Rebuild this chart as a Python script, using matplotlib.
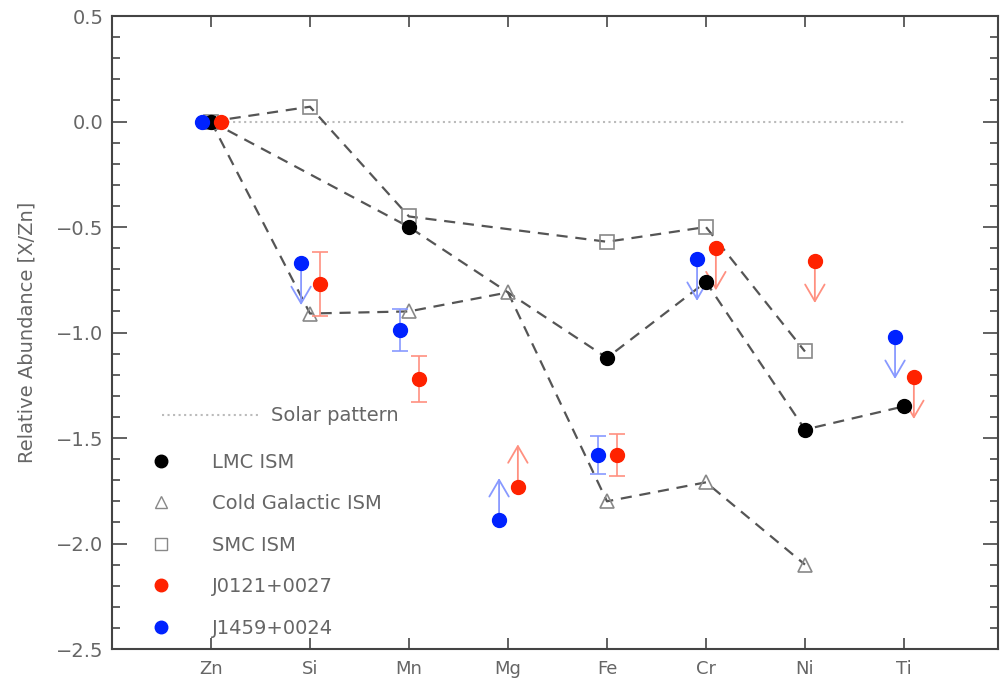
import numpy as np
import matplotlib
matplotlib.use('Agg')
import matplotlib.pyplot as plt
from matplotlib.lines import Line2D
from matplotlib.ticker import MultipleLocator

nan = np.nan

# elements along the x axis
elements = ['Zn', 'Si', 'Mn', 'Mg', 'Fe', 'Cr', 'Ni', 'Ti']
xpos = np.arange(1, len(elements) + 1)

# reference ISM patterns [X/Zn]
lmc_ism = [0.0, nan, -0.50, nan, -1.12, -0.76, -1.46, -1.35]
cold_gal = [0.0, -0.91, -0.90, -0.81, -1.80, -1.71, -2.10, nan]
smc_ism = [0.0, 0.07, -0.45, nan, -0.57, -0.50, -1.09, nan]
solar = [0.0, 0.0, 0.0, 0.0, 0.0, 0.0, 0.0, 0.0]

# J0121+0027 : value, error, limit flag ('d' detection, 'u' upper, 'l' lower)
j0121_val = [0.0, -0.77, -1.22, -1.73, -1.58, -0.60, -0.66, -1.21]
j0121_err = [0.0, 0.15, 0.11, 0.0, 0.10, 0.0, 0.0, 0.0]
j0121_lim = ['d', 'd', 'd', 'l', 'd', 'u', 'u', 'u']

# J1459+0024
j1459_val = [0.0, -0.67, -0.99, -1.89, -1.58, -0.65, nan, -1.02]
j1459_err = [0.0, 0.0, 0.10, 0.0, 0.09, 0.0, 0.0, 0.0]
j1459_lim = ['d', 'u', 'd', 'l', 'd', 'u', 'd', 'u']

fig = plt.figure(figsize=(10, 6.87), dpi=100)
ax = fig.add_axes([0.112, 0.0553, 0.886, 0.9214])

txt = '#666666'
dash = (0, (5, 3.5))


def connected(vals):
    v = np.array(vals, dtype=float)
    m = ~np.isnan(v)
    return xpos[m], v[m]


# solar pattern
ax.plot(xpos, solar, color='#bbbbbb', ls=':', lw=1.5, zorder=1)

# ISM patterns
x, y = connected(lmc_ism)
ax.plot(x, y, color='#555555', ls=dash, lw=1.6, zorder=2)
ax.plot(x, y, 'o', color='black', ms=10, zorder=4)
x, y = connected(cold_gal)
ax.plot(x, y, color='#555555', ls=dash, lw=1.6, zorder=2)
ax.plot(x, y, '^', mfc='none', mec='#888888', mew=1.2, ms=10, zorder=3)
x, y = connected(smc_ism)
ax.plot(x, y, color='#555555', ls=dash, lw=1.6, zorder=2)
ax.plot(x, y, 's', mfc='none', mec='#888888', mew=1.2, ms=10, zorder=3)


def quasar(vals, errs, lims, off, col, light):
    for xi, v, e, l in zip(xpos, vals, errs, lims):
        if np.isnan(v):
            continue
        xx = xi + off
        if l == 'd' and e > 0:
            ax.errorbar(xx, v, yerr=e, fmt='none', ecolor=light, elinewidth=1.2,
                        capsize=6, capthick=1.2, zorder=3)
        elif l in ('u', 'l'):
            d = -0.2 if l == 'u' else 0.2
            ax.annotate('', xy=(xx, v + d), xytext=(xx, v),
                        arrowprops=dict(arrowstyle='->,head_length=0.6,head_width=0.35',
                                        color=light, lw=1.3, mutation_scale=20,
                                        shrinkA=0, shrinkB=0), zorder=3)
        ax.plot(xx, v, 'o', color=col, ms=10, zorder=5)


quasar(j1459_val, j1459_err, j1459_lim, -0.09, '#0022ff', '#8899ff')
quasar(j0121_val, j0121_err, j0121_lim, 0.10, '#ff2200', '#ff9080')

ax.set_xlim(0, 8.95)
ax.set_ylim(-2.5, 0.5)
ax.set_xticks(xpos)
ax.set_xticklabels(elements)
ax.yaxis.set_major_locator(MultipleLocator(0.5))
ax.yaxis.set_minor_locator(MultipleLocator(0.1))
ax.yaxis.set_major_formatter(plt.FuncFormatter(lambda v, p: f'{v:.1f}'.replace('-', '\u2212')))
ax.tick_params(axis='x', which='major', direction='in', length=8, width=1.3,
               top=True, color='#555555', labelcolor=txt, labelsize=13, pad=8)
ax.tick_params(axis='y', which='major', direction='in', length=11, width=1.3,
               right=True, color='#555555', labelcolor=txt, labelsize=14, pad=6)
ax.tick_params(axis='y', which='minor', direction='in', length=6, width=1.3,
               right=True, color='#555555')
ax.tick_params(axis='x', which='minor', bottom=False, top=False)
for s in ax.spines.values():
    s.set_color('#444444')
    s.set_linewidth(1.5)
ax.set_ylabel('Relative Abundance [X/Zn]', color=txt, fontsize=14, labelpad=14)

# legends
leg1 = ax.legend([Line2D([], [], color='#bbbbbb', ls=':', lw=1.5)], ['Solar pattern'],
                 loc='upper left', bbox_to_anchor=(0.037, 0.411), frameon=False,
                 handlelength=5.1, handletextpad=0.5, fontsize=14, labelcolor=txt)
ax.add_artist(leg1)
handles = [Line2D([], [], ls='none', marker='o', color='black', ms=9),
           Line2D([], [], ls='none', marker='^', mfc='none', mec='#888888', ms=9),
           Line2D([], [], ls='none', marker='s', mfc='none', mec='#888888', ms=9),
           Line2D([], [], ls='none', marker='o', color='#ff2200', ms=9),
           Line2D([], [], ls='none', marker='o', color='#0022ff', ms=9)]
labels = ['LMC ISM', 'Cold Galactic ISM', 'SMC ISM', 'J0121+0027', 'J1459+0024']
ax.legend(handles, labels, loc='upper left', bbox_to_anchor=(0.025, 0.338),
          frameon=False, handlelength=1.0, handletextpad=2.08, labelspacing=1.16,
          fontsize=14, labelcolor=txt)

fig.savefig('out.png', dpi=100)
